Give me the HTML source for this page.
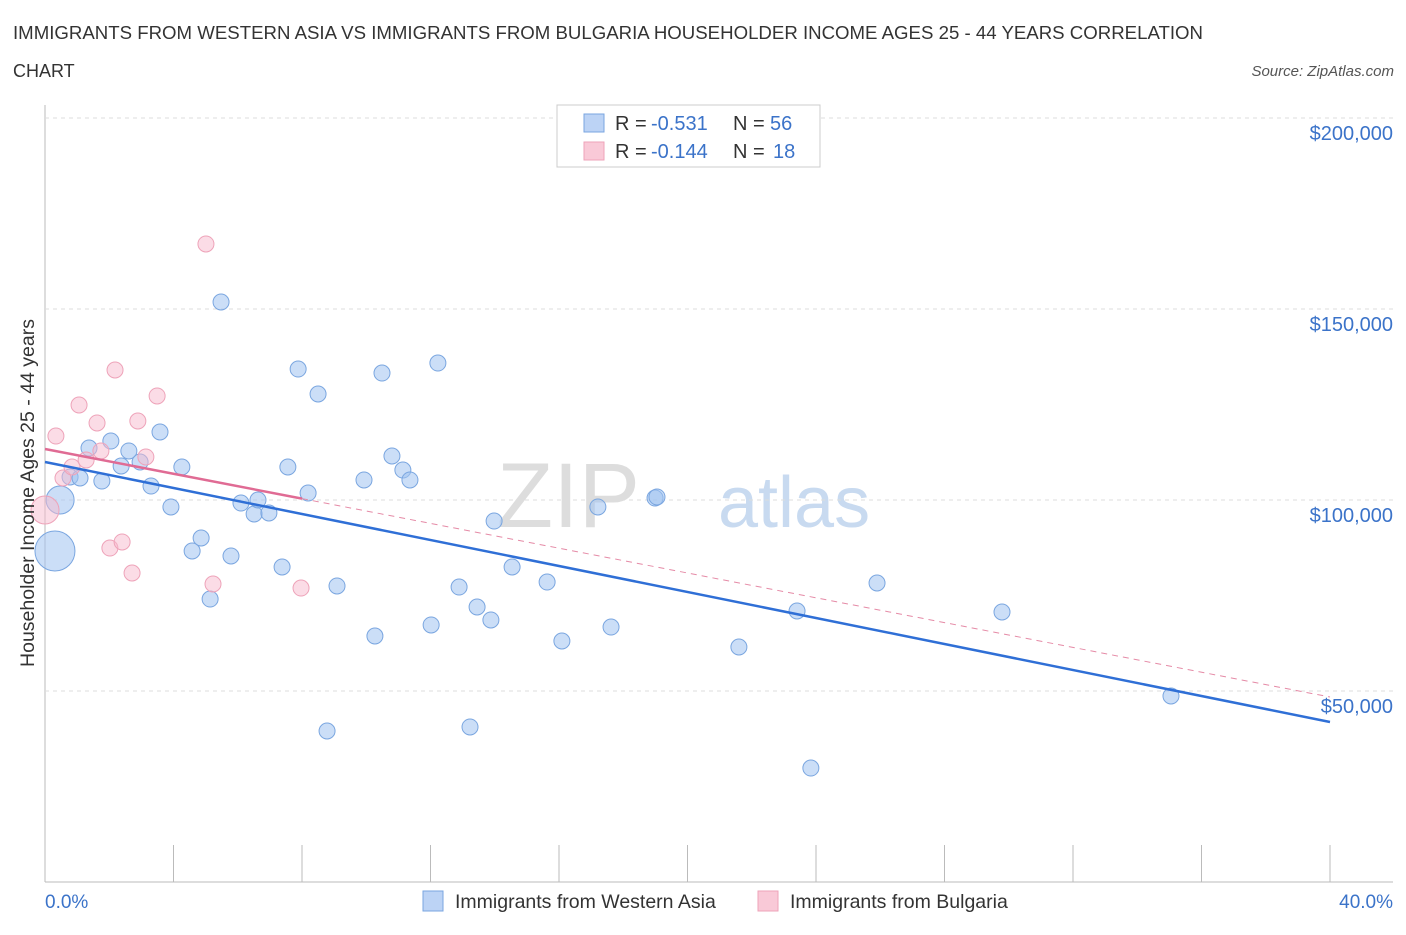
<!DOCTYPE html>
<html><head><meta charset="utf-8"><style>
body{margin:0;background:#fff;font-family:"Liberation Sans",sans-serif;}
svg text{font-family:"Liberation Sans",sans-serif;}
</style></head><body>
<svg id="c" width="1406" height="930">
<text x="13" y="39" font-size="18" fill="#333" textLength="1190" lengthAdjust="spacingAndGlyphs">IMMIGRANTS FROM WESTERN ASIA VS IMMIGRANTS FROM BULGARIA HOUSEHOLDER INCOME AGES 25 - 44 YEARS CORRELATION</text>
<text x="13" y="77" font-size="18" fill="#333">CHART</text>
<text x="1394" y="76" font-size="15" fill="#555" font-style="italic" text-anchor="end">Source: ZipAtlas.com</text>
<text x="640" y="527" font-size="92" fill="#ddd" text-anchor="end" font-family="Liberation Serif">ZIP</text>
<text x="718" y="527" font-size="72" fill="#c8daf0">atlas</text>
<g id="grid"></g><g id="marks"></g>
<text x="34" y="493" font-size="19.5" fill="#333" text-anchor="middle" transform="rotate(-90 34 493)">Householder Income Ages 25 - 44 years</text>
<text x="45" y="908" font-size="19" fill="#3b73c9">0.0%</text>
<text x="1393" y="908" font-size="19" fill="#3b73c9" text-anchor="end">40.0%</text>
<g>
<rect x="557" y="105" width="263" height="62" fill="#fff" stroke="#ccc"/>
<rect x="584" y="114" width="20" height="18" fill="#bcd3f5" stroke="#7aa6e0"/>
<rect x="584" y="142" width="20" height="18" fill="#f9c9d7" stroke="#eea3b9"/>
<text x="615" y="130" font-size="20" fill="#333">R = </text><text x="651" y="130" font-size="20" fill="#3b73c9">-0.531</text>
<text x="733" y="130" font-size="20" fill="#333">N = </text><text x="770" y="130" font-size="20" fill="#3b73c9">56</text>
<text x="615" y="158" font-size="20" fill="#333">R = </text><text x="651" y="158" font-size="20" fill="#3b73c9">-0.144</text>
<text x="733" y="158" font-size="20" fill="#333">N = </text><text x="773" y="158" font-size="20" fill="#3b73c9">18</text>
</g>
<g>
<rect x="423" y="891" width="20" height="20" fill="#bcd3f5" stroke="#7aa6e0"/>
<text x="455" y="908" font-size="19.5" fill="#333">Immigrants from Western Asia</text>
<rect x="758" y="891" width="20" height="20" fill="#f9c9d7" stroke="#eea3b9"/>
<text x="790" y="908" font-size="19.5" fill="#333">Immigrants from Bulgaria</text>
</g>
</svg>
<script>
const yTicks=[50000,100000,150000,200000];
const yTickLabels=["$50,000","$100,000","$150,000","$200,000"];
const blueX=[0.31,0.47,0.78,1.09,1.37,1.77,2.05,2.37,2.61,2.96,3.30,3.58,3.92,4.26,4.58,4.86,5.14,5.48,5.79,6.10,6.51,6.63,6.97,7.38,7.56,7.88,8.19,8.50,8.78,9.09,9.93,10.27,10.49,10.80,11.14,11.36,12.02,12.23,12.89,13.23,13.45,13.88,13.98,14.54,15.63,16.09,17.21,17.62,18.99,19.05,21.60,23.41,23.84,25.90,29.79,35.05];
const blueY=[86650,100000,106020,105760,113610,104970,115440,108900,112830,109950,103660,117800,98170,108640,86650,90050,74080,151830,85340,99210,96340,100000,96600,82460,108640,134290,101830,127750,39530,77490,105240,64400,133240,111520,107850,105240,67280,135860,77220,40580,71990,68590,94500,82460,78530,63090,98170,66750,100520,100790,61520,70940,29840,78270,70680,48690];
const pinkX=[0.0,0.34,0.56,0.84,1.06,1.28,1.62,1.74,2.02,2.18,2.40,2.71,2.89,3.14,3.49,5.01,5.23,7.97];
const pinkY=[97380,116750,105760,108640,124870,110470,120160,112830,87430,134030,89010,80890,120680,111260,127230,167020,78010,76960];
const blueTrend=[109950,41880];
const pinkTrend=[113350,48430];
const X=v=>45+v*32.125, Y=v=>882-v/261.78;
const NS="http://www.w3.org/2000/svg";
const g=document.getElementById('grid'), m=document.getElementById('marks');
function mk(p,tag,a){const e=document.createElementNS(NS,tag);for(const k in a)e.setAttribute(k,a[k]);p.appendChild(e);return e;}
let ax=mk(g,'line',{x1:45,y1:105,x2:45,y2:882,stroke:'#bbb'});


let bx=mk(g,'line',{x1:45,y1:882,x2:1393,y2:882,stroke:'#bbb'});


for(let i=0;i<=10;i++){let t=mk(g,'line',{x1:X(i*4),y1:845,x2:X(i*4),y2:882,stroke:'#bbb'});

}
yTicks.forEach((v,i)=>{let l=mk(g,'line',{x1:45,y1:Y(v),x2:1393,y2:Y(v),stroke:'#ddd','stroke-dasharray':'4,4'});


let t=mk(g,'text',{x:1393,y:Y(v)+22,'font-size':20,fill:'#3b73c9','text-anchor':'end'});t.textContent=yTickLabels[i];

});
blueX.forEach((x,i)=>{let r=i==0?20:(i==1?14:8);let c=mk(m,'circle',{cx:X(x),cy:Y(blueY[i]),r:r,fill:'rgba(160,195,240,0.55)',stroke:'#7aa6e0','stroke-width':1});

});
pinkX.forEach((x,i)=>{let r=i==0?14:8;let c=mk(m,'circle',{cx:X(x),cy:Y(pinkY[i]),r:r,fill:'rgba(247,185,205,0.5)',stroke:'#eea3b9','stroke-width':1});

});
let bl=mk(m,'line',{x1:X(0),y1:Y(blueTrend[0]),x2:X(40),y2:Y(blueTrend[1]),stroke:'#2f6fd6','stroke-width':2.5});


const pAt=x=>pinkTrend[0]+(pinkTrend[1]-pinkTrend[0])*x/40;
let pd=mk(m,'line',{x1:X(8),y1:Y(pAt(8)),x2:X(40),y2:Y(pAt(40)),stroke:'#e58aa6','stroke-width':1,'stroke-dasharray':'6,5'});


let ps=mk(m,'line',{x1:X(0),y1:Y(pAt(0)),x2:X(8),y2:Y(pAt(8)),stroke:'#e06b94','stroke-width':2.5});


</script>
</body></html>
